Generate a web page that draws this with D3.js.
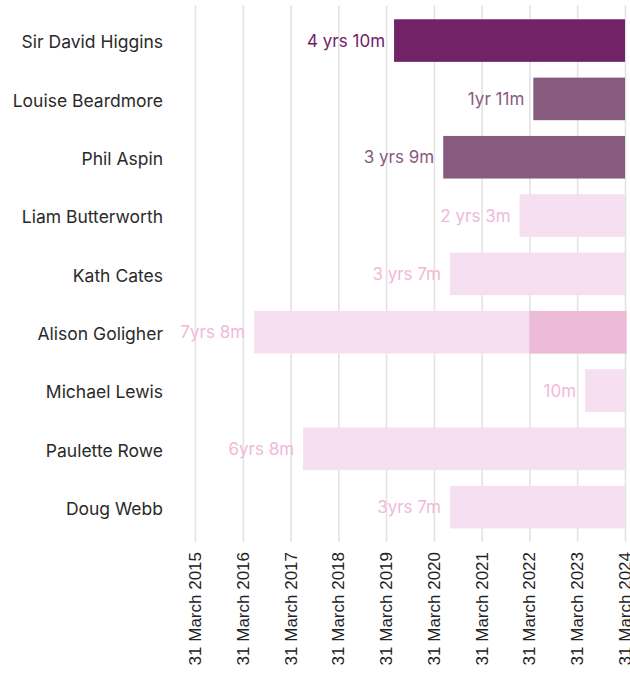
<!DOCTYPE html>
<html>
<head>
<meta charset="utf-8">
<script src="https://cdn.jsdelivr.net/npm/d3@7"></script>
<style>
  html, body { margin: 0; padding: 0; background: #ffffff; }
  svg { display: block; }
</style>
</head>
<body>
<div id="chart"></div>
<script>
// ---- Data ----
const names = ["Sir David Higgins", "Louise Beardmore", "Phil Aspin", "Liam Butterworth",
  "Kath Cates", "Alison Goligher", "Michael Lewis", "Paulette Rowe", "Doug Webb"];
const startDates = ["2019-05-31", "2022-04-30", "2020-06-10", "2022-01-15",
  "2020-08-01", "2016-06-25", "2023-05-31", "2017-07-05", "2020-08-01"];
const endDates = ["2024-03-31", "2024-03-31", "2024-03-31", "2024-03-31",
  "2024-03-31", "2024-04-12", "2024-03-31", "2024-03-31", "2024-03-31"];
const tenureLabels = ["4 yrs 10m", "1yr 11m", "3 yrs 9m", "2 yrs 3m",
  "3 yrs 7m", "7yrs 8m", "10m", "6yrs 8m", "3yrs 7m"];
const roleGroups = ["chair", "executive", "executive", "nonexec",
  "nonexec", "nonexec", "nonexec", "nonexec", "nonexec"];
// highlighted sub-period (darker segment)
const highlightNames = ["Alison Goligher"];
const highlightStarts = ["2022-03-31"];
const highlightEnds = ["2024-04-12"];
const tickDates = ["2015-03-31", "2016-03-31", "2017-03-31", "2018-03-31", "2019-03-31",
  "2020-03-31", "2021-03-31", "2022-03-31", "2023-03-31", "2024-03-31"];

// ---- Styles ----
const barColors = { chair: "#722267", executive: "#875b7f", nonexec: "#f5dff0" };
const labelColors = { chair: "#722267", executive: "#875b7f", nonexec: "#f0b9d9" };
const highlightColor = "#ecbbd8";
const gridColor = "#e3e3e3";
const nameFont = "Inter, 'Noto Sans', sans-serif";
const axisFont = "'Liberation Sans', Arial, sans-serif";

const W = 630, H = 675;
const parse = d3.timeParse("%Y-%m-%d");
const fmt = d3.timeFormat("%-d %B %Y");

const rows = names.map((n, i) => ({
  name: n, start: parse(startDates[i]), end: parse(endDates[i]),
  label: tenureLabels[i], group: roleGroups[i]
}));
const highlights = highlightNames.map((n, i) => ({
  name: n, start: parse(highlightStarts[i]), end: parse(highlightEnds[i])
}));
const ticks = tickDates.map(parse);

const svg = d3.select("#chart").append("svg").attr("width", W).attr("height", H);

const x = d3.scaleTime().domain([ticks[0], ticks[ticks.length - 1]]).range([195, 625]);
const y = d3.scaleBand().domain(names).range([11.4, 536.4]).paddingInner(0.27).paddingOuter(0.135);

const gridTop = 5.5, gridBottom = 542;

// gridlines + axis via d3.axisBottom
const axisG = svg.append("g").attr("transform", `translate(0,${gridBottom})`)
  .call(d3.axisBottom(x).tickValues(ticks).tickFormat(fmt).tickSizeOuter(0).tickSizeInner(-(gridBottom - gridTop)).tickPadding(10));
axisG.select(".domain").remove();
axisG.selectAll(".tick line").attr("stroke", gridColor).attr("stroke-width", 1.6);
axisG.selectAll(".tick text")
  .attr("font-family", axisFont).attr("font-size", 17).attr("fill", "#222")
  .attr("text-anchor", "end")
  .attr("transform", "rotate(-90)")
  .attr("x", -10).attr("y", -0.5).attr("dy", "0.35em");

// bars
svg.append("g").selectAll("rect").data(rows).join("rect")
  .attr("x", d => x(d.start))
  .attr("y", d => y(d.name))
  .attr("width", d => x(d.end) - x(d.start))
  .attr("height", y.bandwidth())
  .attr("fill", d => barColors[d.group]);

svg.append("g").selectAll("rect").data(highlights).join("rect")
  .attr("x", d => x(d.start))
  .attr("y", d => y(d.name))
  .attr("width", d => x(d.end) - x(d.start))
  .attr("height", y.bandwidth())
  .attr("fill", highlightColor);

// tenure labels
svg.append("g").selectAll("text").data(rows).join("text")
  .attr("x", d => x(d.start) - 9)
  .attr("y", d => y(d.name) + y.bandwidth() / 2)
  .attr("dy", "0.35em")
  .attr("text-anchor", "end")
  .attr("font-family", nameFont).attr("font-size", 17)
  .attr("fill", d => labelColors[d.group])
  .text(d => d.label);

// names
svg.append("g").selectAll("text").data(rows).join("text")
  .attr("x", 163)
  .attr("y", d => y(d.name) + y.bandwidth() / 2 + 1.5)
  .attr("dy", "0.35em")
  .attr("text-anchor", "end")
  .attr("font-family", nameFont).attr("font-size", 17.5)
  .attr("fill", "#2a2a2a")
  .text(d => d.name);
</script>
</body>
</html>
